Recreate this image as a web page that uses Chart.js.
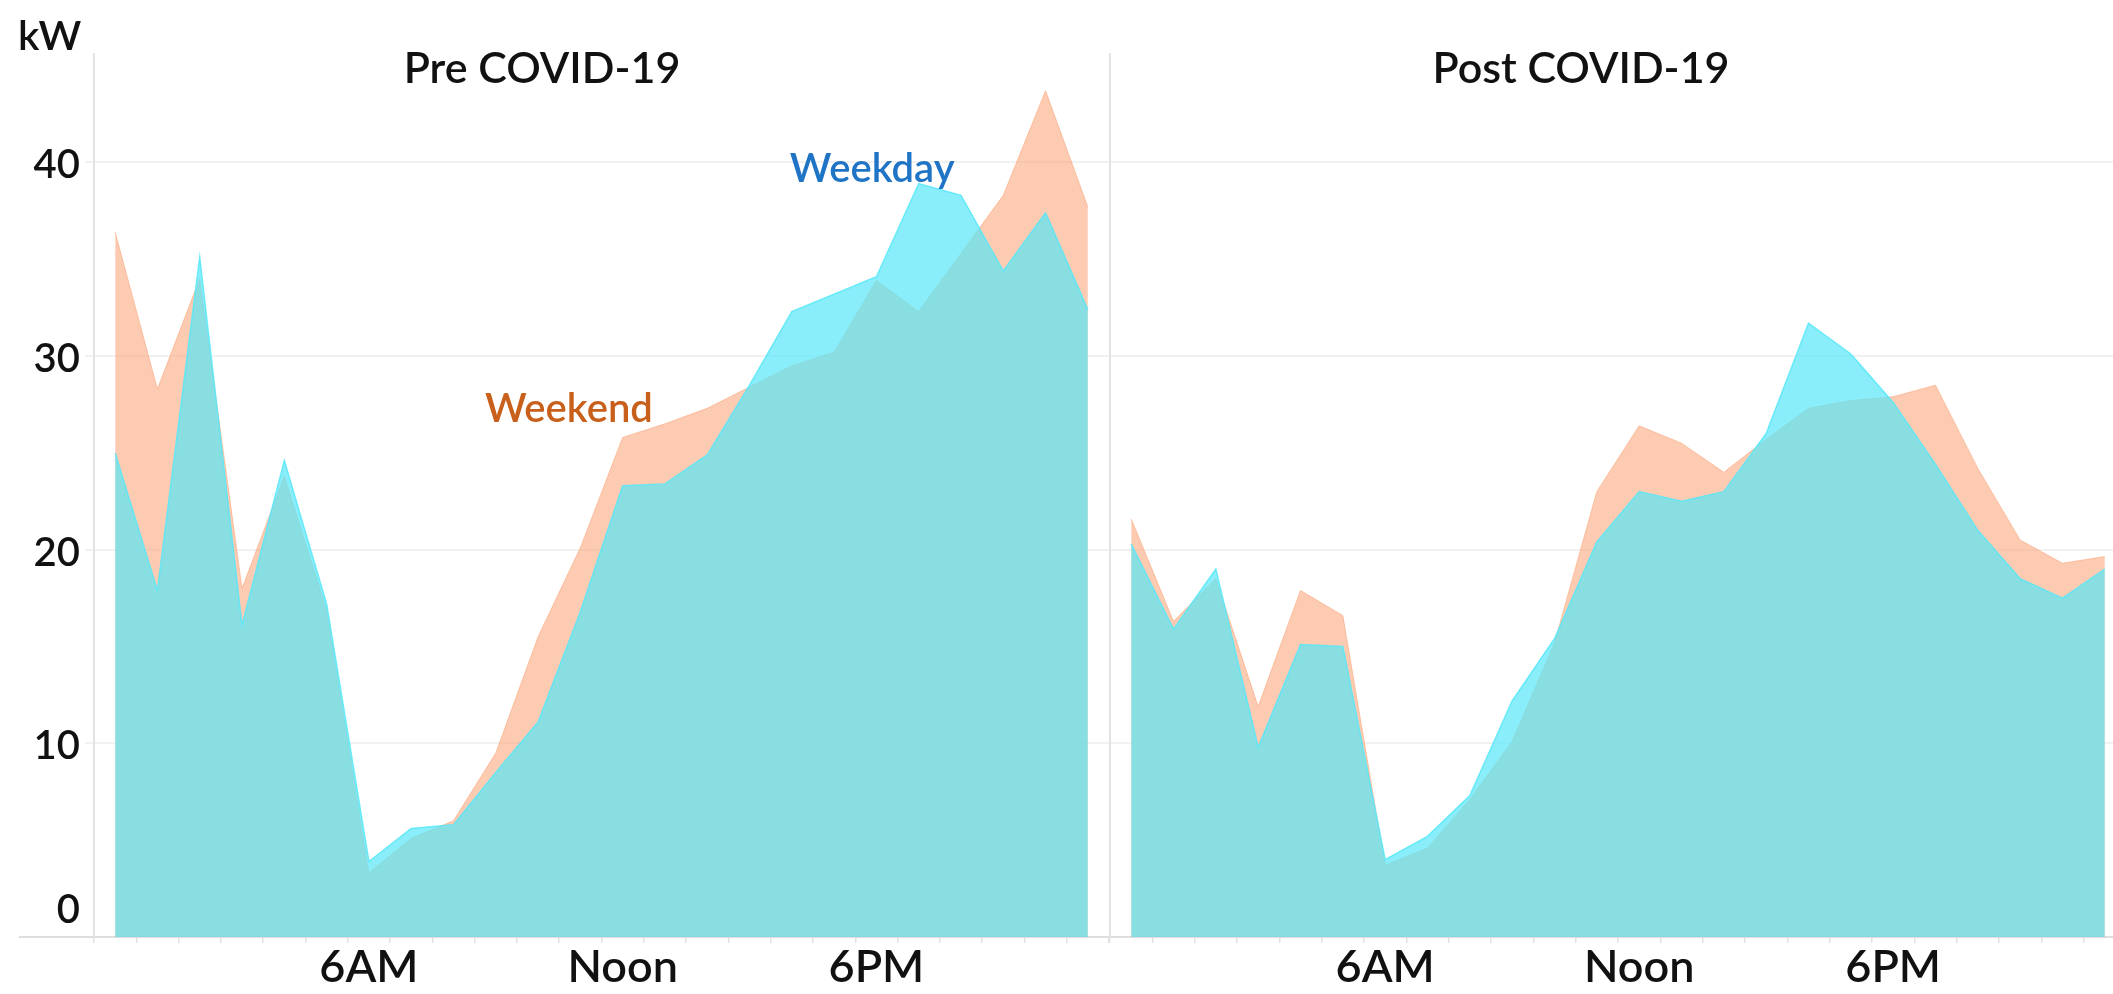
<!DOCTYPE html>
<html>
<head>
<meta charset="utf-8">
<script src="https://cdn.jsdelivr.net/npm/chart.js@4.4.1/dist/chart.umd.min.js"></script>
<style>
  html, body { margin: 0; padding: 0; background: #fff; overflow: hidden; }
  #wrap { position: relative; width: 2113px; height: 994px; overflow: hidden; }
  #pre { position: absolute; left: 0; top: 0; }
  #post { position: absolute; left: 1108px; top: 0; }
</style>
</head>
<body>
<div id="wrap">
  <canvas id="pre" width="1109" height="994"></canvas>
  <canvas id="post" width="1018" height="994"></canvas>
</div>
<script>
hours = ["12AM", "1AM", "2AM", "3AM", "4AM", "5AM", "6AM", "7AM", "8AM", "9AM", "10AM", "11AM",
         "Noon", "1PM", "2PM", "3PM", "4PM", "5PM", "6PM", "7PM", "8PM", "9PM", "10PM", "11PM"];
shownTicks = ["6AM", "Noon", "6PM"];
yTicks = [0, 10, 20, 30, 40];

// kW per hour
preWeekday  = [25.0, 17.9, 35.1, 16.1, 24.6, 17.2, 3.9, 5.6, 5.8, 8.5, 11.1, 16.8,
               23.3, 23.4, 24.9, 28.5, 32.3, 33.2, 34.1, 38.9, 38.3, 34.4, 37.4, 32.4];
preWeekend  = [36.4, 28.3, 34.0, 18.0, 23.8, 16.9, 3.3, 5.1, 6.0, 9.5, 15.5, 20.1,
               25.8, 26.5, 27.3, 28.4, 29.5, 30.2, 33.9, 32.3, 35.3, 38.3, 43.7, 37.7];
postWeekday = [20.3, 15.9, 19.0, 9.8, 15.1, 15.0, 4.0, 5.2, 7.3, 12.2, 15.4, 20.4,
               23.0, 22.5, 23.0, 26.0, 31.7, 30.1, 27.6, 24.4, 21.0, 18.5, 17.5, 19.0];
postWeekend = [21.6, 16.3, 18.5, 11.9, 17.9, 16.6, 3.7, 4.6, 7.1, 10.1, 15.2, 23.0,
               26.4, 25.5, 24.0, 25.7, 27.3, 27.7, 27.9, 28.5, 24.2, 20.5, 19.3, 19.65];

var FONT = "Lato, 'Open Sans', sans-serif";
var WEIGHT = "600";

// titles, unit and series notes
var panelText = {
  id: "panelText",
  afterDraw: function (chart, args, opts) {
    var ctx = chart.ctx;
    var area = chart.chartArea;
    ctx.save();
    if (opts.axisStart !== undefined) {
      ctx.strokeStyle = "#dedede";
      ctx.lineWidth = 2;
      ctx.beginPath();
      ctx.moveTo(opts.axisStart, area.bottom);
      ctx.lineTo(area.left, area.bottom);
      ctx.stroke();
    }
    ctx.textBaseline = "alphabetic";
    ctx.fillStyle = "#111";
    ctx.textAlign = "center";
    ctx.font = WEIGHT + " 43px " + FONT;
    ctx.fillText(opts.title, opts.titleX, 83);
    if (opts.unit) {
      ctx.textAlign = "left";
      ctx.font = WEIGHT + " 41px " + FONT;
      ctx.fillText(opts.unit, 18, 50);
    }
    (opts.notes || []).forEach(function (n) {
      ctx.textAlign = "center";
      ctx.font = WEIGHT + " 40px " + FONT;
      ctx.fillStyle = n.color;
      ctx.fillText(n.text, chart.scales.x.getPixelForValue(n.at), chart.scales.y.getPixelForValue(n.value));
    });
    ctx.restore();
  }
};

function makeSets(weekday, weekend) {
  return [
    {
      label: "Weekday",
      data: weekday,
      backgroundColor: "rgba(88,231,248,0.7)",
      borderColor: "rgba(88,231,248,0.85)",
      borderWidth: 1.5,
      fill: "origin",
      pointRadius: 0,
      tension: 0
    },
    {
      label: "Weekend",
      data: weekend,
      backgroundColor: "rgba(249,160,115,0.55)",
      borderColor: "rgba(249,160,115,0.55)",
      borderWidth: 1,
      fill: "origin",
      pointRadius: 0,
      tension: 0
    }
  ];
}

function drawPanel(id, weekday, weekend, showY, textOpts) {
  new Chart(document.getElementById(id), {
    type: "line",
    data: { labels: hours, datasets: makeSets(weekday, weekend) },
    plugins: [panelText],
    options: {
      responsive: false,
      animation: false,
      layout: { padding: { top: 54, left: 0, right: 0, bottom: 0 } },
      plugins: {
        legend: { display: false },
        tooltip: { enabled: false },
        panelText: textOpts
      },
      scales: {
        x: {
          offset: true,
          grid: { offset: true, drawOnChartArea: false, color: "#e2e2e2", lineWidth: 1.5, tickLength: 6 },
          border: { color: "#dedede", width: 2 },
          ticks: {
            autoSkip: false,
            maxRotation: 0,
            padding: -3,
            color: "#111",
            font: { family: FONT, size: 45, weight: WEIGHT },
            callback: function (value) {
              var lab = this.getLabelForValue(value);
              return shownTicks.indexOf(lab) >= 0 ? lab : "";
            }
          },
          afterFit: function (scale) {
            scale.height = 57;
            scale.paddingLeft = 0;
            scale.paddingRight = 0;
          }
        },
        y: {
          min: 0,
          max: 45.6,
          afterBuildTicks: function (scale) {
            scale.ticks = yTicks.map(function (v) { return { value: v }; });
          },
          grid: { color: "#f1f1f1", lineWidth: 2, tickLength: showY ? 9 : 0, drawTicks: showY },
          border: { color: "#e3e3e3", width: 2 },
          ticks: {
            display: showY,
            padding: 5,
            labelOffset: 3,
            color: "#111",
            font: { family: FONT, size: 40, weight: WEIGHT, lineHeight: 1.5 },
            callback: function (v) { return v === 0 ? ["0", ""] : String(v); }
          },
          afterFit: function (scale) {
            scale.width = showY ? 94 : 2;
            scale.paddingTop = 0;
            scale.paddingBottom = 0;
          }
        }
      }
    }
  });
}

drawPanel("pre", preWeekday, preWeekend, true, {
  title: "Pre COVID-19",
  titleX: 542,
  unit: "kW",
  axisStart: 19,
  notes: [
    { text: "Weekday", color: "#1f74c6", at: 17.9, value: 39.0 },
    { text: "Weekend", color: "#c8601c", at: 10.73, value: 26.6 }
  ]
});

drawPanel("post", postWeekday, postWeekend, false, {
  title: "Post COVID-19",
  titleX: 473
});
</script>
</body>
</html>
